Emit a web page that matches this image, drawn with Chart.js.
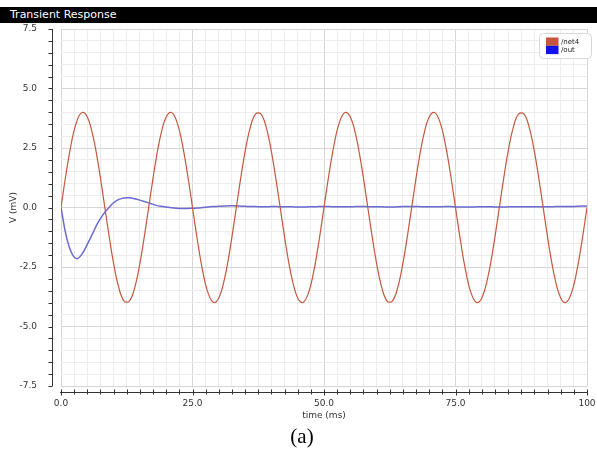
<!DOCTYPE html>
<html>
<head>
<meta charset="utf-8">
<script src="https://cdn.jsdelivr.net/npm/chart.js@4/dist/chart.umd.min.js"></script>
<style>
  html,body{margin:0;padding:0;background:#fff;}
  #wrap{position:relative;width:597px;height:450px;overflow:hidden;}
  #c{position:absolute;left:0;top:0;}
  #bar{position:absolute;left:0;top:7px;width:597px;height:16px;background:#000;color:#fff;
       font:11px "DejaVu Sans",sans-serif;line-height:16px;padding-left:10px;box-sizing:border-box;z-index:2;}
  #cap{position:absolute;left:0;width:597px;top:424px;text-align:center;
       font:21px "Liberation Serif","Times New Roman",serif;color:#000;padding-left:7px;box-sizing:border-box;}
</style>
</head>
<body>
<div id="wrap">
  <canvas id="c" width="597" height="450"></canvas>
  <div id="bar">Transient Response</div>
  <div id="cap">(a)</div>
</div>
<script>
// time samples (ms)
const timeMs = [0,1,2,3,4,5,6,7,8,9,10,11,12,13,14,15,16,17,18,19,20,21,22,23,24,25,26,27,28,29,30,31,32,33,34,35,36,37,38,39,40,41,42,43,44,45,46,47,48,49,50,
  51,52,53,54,55,56,57,58,59,60,61,62,63,64,65,66,67,68,69,70,71,72,73,74,75,76,77,78,79,80,81,82,83,84,85,86,87,88,89,90,91,92,93,94,95,96,97,98,99,100];
// /net4 (mV)
const net4 = [0,1.47,2.74,3.62,3.99,3.80,3.08,1.93,0.50,-0.99,-2.35,-3.38,-3.93,-3.93,-3.38,-2.35,-0.99,0.50,1.93,3.08,3.80,3.99,3.62,2.74,1.47,
  0,-1.47,-2.74,-3.62,-3.99,-3.80,-3.08,-1.93,-0.50,0.99,2.35,3.38,3.93,3.93,3.38,2.35,0.99,-0.50,-1.93,-3.08,-3.80,-3.99,-3.62,-2.74,-1.47,
  0,1.47,2.74,3.62,3.99,3.80,3.08,1.93,0.50,-0.99,-2.35,-3.38,-3.93,-3.93,-3.38,-2.35,-0.99,0.50,1.93,3.08,3.80,3.99,3.62,2.74,1.47,
  0,-1.47,-2.74,-3.62,-3.99,-3.80,-3.08,-1.93,-0.50,0.99,2.35,3.38,3.93,3.93,3.38,2.35,0.99,-0.50,-1.93,-3.08,-3.80,-3.99,-3.62,-2.74,-1.47,0];
// /out (mV)
const out = [0,-1.2,-1.9,-2.15,-1.95,-1.55,-1.1,-0.65,-0.3,-0.03,0.2,0.34,0.4,0.41,0.37,0.31,0.24,0.17,0.1,0.05,0.02,-0.01,-0.03,-0.04,-0.04,-0.03,-0.02,0,0.02,0.04,0.05,0.06,0.07,0.07,0.06,0.05,
  0.04,0.04,0.03,0.03,0.04,0.04,0.03,0.03,0.03,0.02,0.02,0.03,0.03,0.04,0.04,0.04,0.03,0.03,0.03,0.03,0.04,0.04,0.04,0.03,0.03,0.03,0.02,0.02,0.03,0.04,0.04,0.04,0.04,0.03,0.03,
  0.03,0.03,0.04,0.04,0.03,0.02,0.02,0.02,0.03,0.03,0.03,0.03,0.02,0.02,0.03,0.03,0.03,0.03,0.03,0.03,0.03,0.03,0.03,0.04,0.04,0.04,0.04,0.05,0.06,0.06];
const seriesNames = ['/net4','/out'];
const xTickLabels = ['0.0','25.0','50.0','75.0','100'];
const yTickLabels = ['-7.5','-5.0','-2.5','0.0','2.5','5.0','7.5'];

const lineColors = ['#c4593f','#6a6ad2'];
const swatchColors = ['#c8553d','#1212e6'];
const FONT = '"DejaVu Sans", sans-serif';

function isMajor(v, step){ const r = v/step; return Math.abs(r-Math.round(r))<1e-6; }

const axisPlugin = {
  id:'axisPlugin',
  afterDraw(chart){
    const ctx = chart.ctx, ca = chart.chartArea;
    const xs = chart.scales.x, ys = chart.scales.y;
    ctx.save();
    ctx.strokeStyle = '#333'; ctx.lineWidth = 1;
    // x axis line
    const ay = Math.round(ca.bottom + 6) + 0.5;
    ctx.beginPath();
    ctx.moveTo(ca.left-1, ay); ctx.lineTo(ca.right+1, ay);
    xs.ticks.forEach(t=>{
      const px = Math.round(xs.getPixelForValue(t.value))+0.5;
      ctx.moveTo(px, ay-3); ctx.lineTo(px, ay+ (isMajor(t.value,25)?3:2));
    });
    ctx.stroke();
    // y axis line
    const ax = Math.round(ca.left - 9) + 0.5;
    ctx.beginPath();
    ctx.moveTo(ax, ca.top); ctx.lineTo(ax, ca.bottom);
    ys.ticks.forEach(t=>{
      const py = Math.round(ys.getPixelForValue(t.value))+0.5;
      ctx.moveTo(ax-4, py); ctx.lineTo(ax, py);
    });
    ctx.stroke();
    // legend box
    const bx = 539.5, by = 33.5, bw = 52, bh = 25;
    ctx.strokeStyle = '#d8d8d8';
    ctx.fillStyle = '#fff';
    ctx.beginPath();
    if (ctx.roundRect) ctx.roundRect(bx,by,bw,bh,4); else ctx.rect(bx,by,bw,bh);
    ctx.fill(); ctx.stroke();
    ctx.font = '7px ' + FONT;
    ctx.textBaseline = 'middle';
    chart.data.datasets.forEach((ds,i)=>{
      ctx.fillStyle = swatchColors[i];
      ctx.fillRect(546, 37.5 + i*8.3, 12.5, 8.3);
      ctx.fillStyle = '#222';
      ctx.fillText(ds.label, 561, 42 + i*8.5);
    });
    ctx.restore();
  }
};

new Chart(document.getElementById('c'), {
  type:'line',
  data:{
    labels: timeMs,
    datasets:[
      {label:seriesNames[0], data:timeMs.map((t,i)=>({x:t,y:net4[i]})), borderColor:lineColors[0], borderWidth:1.2, pointRadius:0, tension:0.4, fill:false},
      {label:seriesNames[1], data:timeMs.map((t,i)=>({x:t,y:out[i]})), borderColor:lineColors[1], borderWidth:1.5, pointRadius:0, tension:0.4, fill:false}
    ]
  },
  options:{
    responsive:false, animation:false, devicePixelRatio:1,
    layout:{padding:{left:0,top:29,right:10,bottom:29}},
    plugins:{legend:{display:false}, tooltip:{enabled:false}, title:{display:false}},
    scales:{
      x:{
        type:'linear', min:0, max:100,
        afterFit(s){ s.height = 35; s.paddingRight = 0; s.paddingLeft = 0; },
        afterBuildTicks(s){ const t=[]; for(let v=0; v<=100.0001; v+=2.5) t.push({value:v}); s.ticks=t; },
        ticks:{autoSkip:false, maxRotation:0, padding:12, color:'#333', font:{family:FONT,size:9},
          callback(v){ if(!isMajor(v,25)) return ''; return xTickLabels[Math.round(v/25)]; }},
        grid:{drawTicks:false, color(c){ return isMajor(c.tick.value,25) ? '#d6d6d6' : '#ececec'; }, lineWidth:1},
        border:{display:false},
        title:{display:true, text:'time (ms)', color:'#333', font:{family:FONT,size:9}, padding:{top:0,bottom:0}}
      },
      y:{
        type:'linear', min:-7.5, max:7.5,
        afterFit(s){ s.width = 61; s.paddingTop = 0; s.paddingBottom = 0; },
        afterBuildTicks(s){ const t=[]; for(let k=-15;k<=15;k++) t.push({value:k*0.5}); s.ticks=t; },
        ticks:{autoSkip:false, padding:24, color:'#333', font:{family:FONT,size:9},
          callback(v){ if(!isMajor(v,2.5)) return ''; return yTickLabels[Math.round(v/2.5)+3]; }},
        grid:{drawTicks:false, color(c){ return isMajor(c.tick.value,2.5) ? '#d6d6d6' : '#ececec'; }, lineWidth:1},
        border:{display:false},
        title:{display:true, text:'V (mV)', color:'#333', font:{family:FONT,size:9}, padding:{top:8,bottom:0}}
      }
    }
  },
  plugins:[axisPlugin]
});
</script>
</body>
</html>
